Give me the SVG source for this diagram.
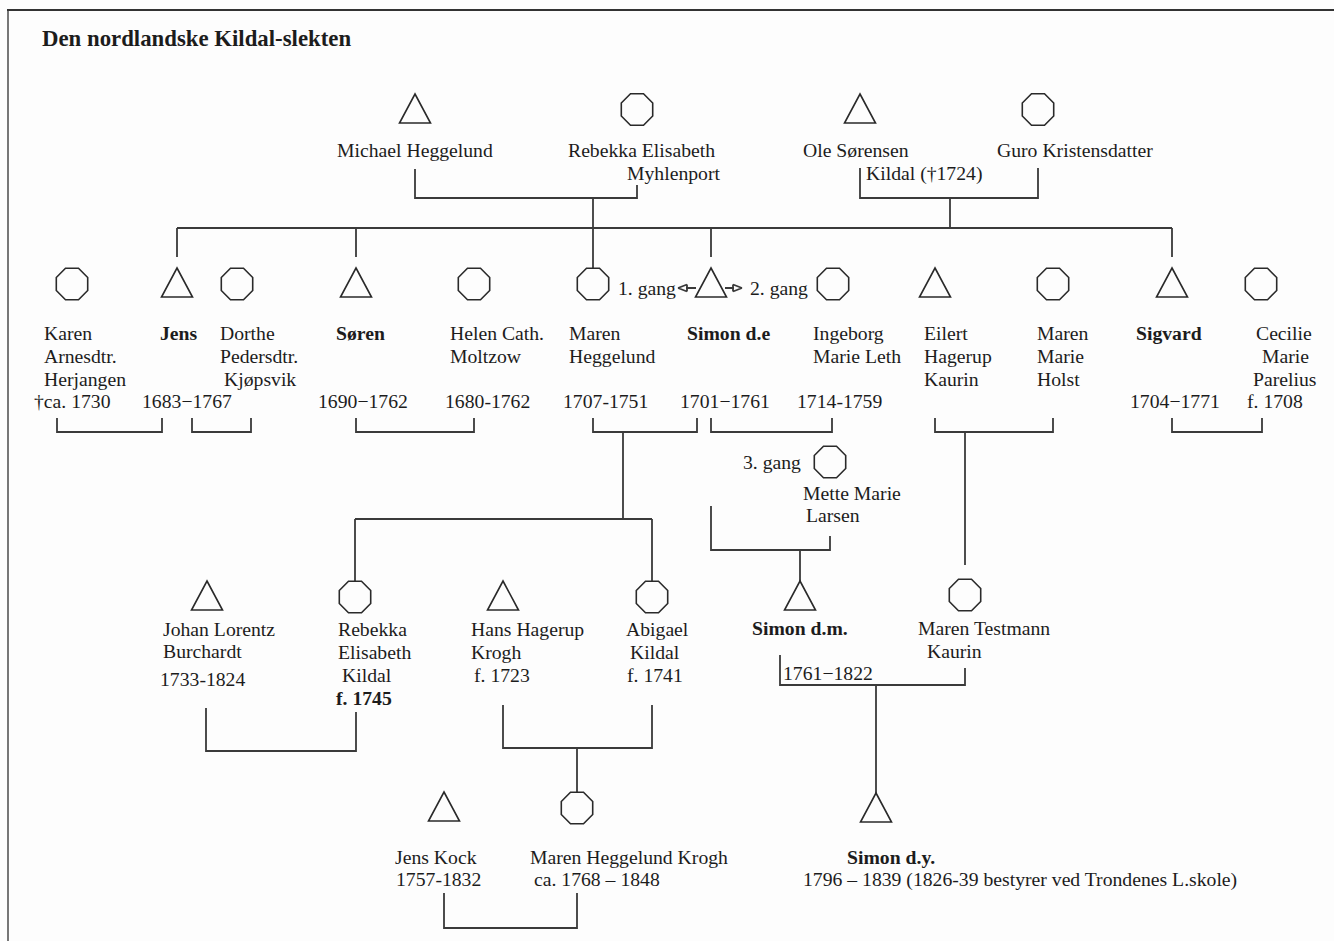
<svg xmlns="http://www.w3.org/2000/svg" width="1334" height="941" viewBox="0 0 1334 941">
<style>
text{font-family:"Liberation Serif","Times New Roman",serif;font-size:19.7px;fill:#1c1c1c}
.b{font-weight:bold}
.t{font-weight:bold;font-size:22.8px}
.sym{fill:none;stroke:#2a2a2a;stroke-width:1.6;stroke-linejoin:miter}
.con path{fill:none;stroke:#3a3a3a;stroke-width:1.8}
.arr{fill:none;stroke:#3a3a3a;stroke-width:1.3}
</style>
<defs>
<path id="tri" class="sym" d="M0,0 L15.5,29 L-15.5,29 Z"/>
<polygon id="oct" class="sym" points="6.5,-15.7 15.7,-6.5 15.7,6.5 6.5,15.7 -6.5,15.7 -15.7,6.5 -15.7,-6.5 -6.5,-15.7"/>
</defs>
<rect width="1334" height="941" fill="#fdfdfd"/>
<line x1="8" y1="10" x2="8" y2="941" stroke="#777" stroke-width="2"/>
<line x1="7" y1="10" x2="1334" y2="10" stroke="#333" stroke-width="2"/>
<text class="t" x="42" y="46">Den nordlandske Kildal-slekten</text>

<g id="connectors" class="con">
<path d="M415 169V198H637V185"/>
<path d="M593 198V268"/>
<path d="M860 168V198H1038V168"/>
<path d="M950 198V228"/>
<path d="M177 228H1172"/>
<path d="M177 228V257M356 228V257M711 228V257M1172 228V257"/>
<path d="M57 418V432H162V418"/>
<path d="M192 418V432H251V418"/>
<path d="M356 418V432H474V418"/>
<path d="M593 418V432H697V418"/>
<path d="M711 418V432H832V418"/>
<path d="M935 418V432H1053V418"/>
<path d="M1172 418V432H1262V418"/>
<path d="M623 432V519M355 519H652M355 519V581M652 519V581"/>
<path d="M965 432V565"/>
<path d="M711 506V550H830V536M800 550V581"/>
<path d="M206 708V751H356V712"/>
<path d="M503 705V748H652V705M577 748V792"/>
<path d="M780 655V685H965V668M876 685V793"/>
<path d="M444 893V928H577V893"/>
<path class="arr" d="M696 288H686M678 288L687 284.5M678 288L687 291.5M687 284.5V291.5"/>
<path class="arr" d="M725 288H734M742 288L733 284.5M742 288L733 291.5M733 284.5V291.5"/>
</g>

<g id="michael"><use href="#tri" x="415" y="94"/><text x="337" y="157">Michael Heggelund</text></g>
<g id="rebekka-m"><use href="#oct" x="637" y="109.5"/><text x="568" y="157">Rebekka Elisabeth</text><text x="627" y="180">Myhlenport</text></g>
<g id="ole"><use href="#tri" x="860" y="94"/><text x="803" y="157">Ole Sørensen</text><text x="866" y="180">Kildal (†1724)</text></g>
<g id="guro"><use href="#oct" x="1038" y="109.5"/><text x="997" y="157">Guro Kristensdatter</text></g>

<g id="karen"><use href="#oct" x="72" y="284"/><text x="44" y="340">Karen</text><text x="44" y="363">Arnesdtr.</text><text x="44" y="386">Herjangen</text><text x="34" y="408">†ca. 1730</text></g>
<g id="jens"><use href="#tri" x="177" y="268"/><text class="b" x="160" y="340">Jens</text><text x="142" y="408">1683−1767</text></g>
<g id="dorthe"><use href="#oct" x="237" y="284"/><text x="220" y="340">Dorthe</text><text x="220" y="363">Pedersdtr.</text><text x="224" y="386">Kjøpsvik</text></g>
<g id="soren"><use href="#tri" x="356" y="268"/><text class="b" x="336" y="340">Søren</text><text x="318" y="408">1690−1762</text></g>
<g id="helen"><use href="#oct" x="474" y="284"/><text x="450" y="340">Helen Cath.</text><text x="450" y="363">Moltzow</text><text x="445" y="408">1680-1762</text></g>
<g id="maren-h"><use href="#oct" x="593" y="284"/><text x="569" y="340">Maren</text><text x="569" y="363">Heggelund</text><text x="563" y="408">1707-1751</text><text x="618" y="295">1. gang</text></g>
<g id="simon-de"><use href="#tri" x="711" y="268"/><text class="b" x="687" y="340">Simon d.e</text><text x="680" y="408">1701−1761</text></g>
<g id="ingeborg"><use href="#oct" x="833" y="284"/><text x="750" y="295">2. gang</text><text x="813" y="340">Ingeborg</text><text x="813" y="363">Marie Leth</text><text x="797" y="408">1714-1759</text></g>
<g id="eilert"><use href="#tri" x="935" y="268"/><text x="924" y="340">Eilert</text><text x="924" y="363">Hagerup</text><text x="924" y="386">Kaurin</text></g>
<g id="maren-marie"><use href="#oct" x="1053" y="284"/><text x="1037" y="340">Maren</text><text x="1037" y="363">Marie</text><text x="1037" y="386">Holst</text></g>
<g id="sigvard"><use href="#tri" x="1172" y="268"/><text class="b" x="1136" y="340">Sigvard</text><text x="1130" y="408">1704−1771</text></g>
<g id="cecilie"><use href="#oct" x="1261" y="284"/><text x="1256" y="340">Cecilie</text><text x="1262" y="363">Marie</text><text x="1253" y="386">Parelius</text><text x="1247" y="408">f. 1708</text></g>

<g id="mette"><use href="#oct" x="830" y="462"/><text x="743" y="469">3. gang</text><text x="803" y="500">Mette Marie</text><text x="806" y="522">Larsen</text></g>

<g id="johan"><use href="#tri" x="207" y="581"/><text x="163" y="636">Johan Lorentz</text><text x="163" y="658">Burchardt</text><text x="160" y="686">1733-1824</text></g>
<g id="rebekka-k"><use href="#oct" x="355" y="597"/><text x="338" y="636">Rebekka</text><text x="338" y="659">Elisabeth</text><text x="342" y="682">Kildal</text><text class="b" x="336" y="705">f. 1745</text></g>
<g id="hans"><use href="#tri" x="503" y="581"/><text x="471" y="636">Hans Hagerup</text><text x="471" y="659">Krogh</text><text x="474" y="682">f. 1723</text></g>
<g id="abigael"><use href="#oct" x="652" y="597"/><text x="626" y="636">Abigael</text><text x="630" y="659">Kildal</text><text x="627" y="682">f. 1741</text></g>
<g id="simon-dm"><use href="#tri" x="800" y="581"/><text class="b" x="752" y="635">Simon d.m.</text><text x="783" y="680">1761−1822</text></g>
<g id="maren-t"><use href="#oct" x="965" y="595"/><text x="918" y="635">Maren Testmann</text><text x="927" y="658">Kaurin</text></g>

<g id="jens-kock"><use href="#tri" x="444" y="792"/><text x="395" y="864">Jens Kock</text><text x="396" y="886">1757-1832</text></g>
<g id="maren-hk"><use href="#oct" x="577" y="808"/><text x="530" y="864">Maren Heggelund Krogh</text><text x="534" y="886">ca. 1768 – 1848</text></g>
<g id="simon-dy"><use href="#tri" x="876" y="793"/><text class="b" x="847" y="864">Simon d.y.</text><text x="803" y="886">1796 – 1839 (1826-39 bestyrer ved Trondenes L.skole)</text></g>
</svg>
